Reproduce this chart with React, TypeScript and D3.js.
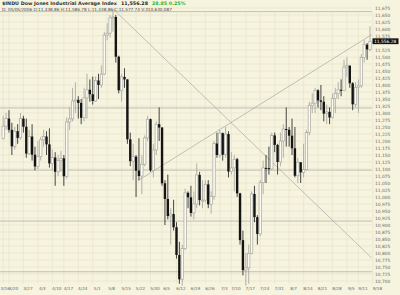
import React from "react";
import * as d3 from "d3";

// ---- data (Dow Jones Industrial Average, daily, 3/16 – 9/15) ----
const opens = [
  11209, 11253, 11280, 11240, 11181, 11235, 11211, 11280, 11251, 11155, 11216, 11151,
  11109, 11145, 11204, 11216, 11188, 11120, 11141, 11090, 11130, 11138, 11074, 11268,
  11279, 11343, 11347, 11336, 11283, 11354, 11383, 11367, 11343, 11416, 11400, 11439,
  11578, 11585, 11640, 11643, 11501, 11381, 11429, 11420, 11206, 11128, 11144, 11094,
  11075, 11117, 11211, 11278, 11095, 11168, 11260, 11248, 11049, 10993, 10932, 10939,
  10892, 10793, 10706, 10816, 11015, 10999, 10943, 10975, 11079, 10989, 10989, 11045,
  10974, 11002, 11191, 11150, 11228, 11151, 11225, 11091, 11104, 11135, 11013, 10846,
  10739, 10747, 10799, 11011, 10928, 10868, 11051, 11104, 11103, 11100, 11220, 11186,
  11125, 11200, 11243, 11240, 11219, 11174, 11076, 11124, 11088, 11098, 11230, 11327,
  11335, 11381, 11345, 11340, 11298, 11304, 11284, 11352, 11370, 11383, 11381, 11464,
  11469, 11406, 11331, 11392, 11397, 11498, 11544, 11527,
];
const highs = [
  11290, 11300, 11310, 11265, 11250, 11260, 11300, 11290, 11280, 11240, 11260, 11180,
  11200, 11215, 11240, 11235, 11245, 11170, 11160, 11150, 11165, 11150, 11285, 11320,
  11390, 11410, 11360, 11350, 11390, 11440, 11420, 11430, 11430, 11440, 11470, 11590,
  11620, 11650, 11670, 11650, 11505, 11440, 11460, 11420, 11230, 11190, 11150, 11210,
  11150, 11220, 11290, 11280, 11190, 11270, 11320, 11250, 11060, 11080, 10960, 10990,
  10910, 10840, 10830, 11030, 11020, 11040, 11020, 11120, 11090, 11060, 11060, 11060,
  11020, 11200, 11230, 11240, 11230, 11250, 11235, 11160, 11150, 11140, 11015, 10880,
  10800, 10830, 11020, 11040, 10935, 11060, 11130, 11150, 11180, 11230, 11230, 11190,
  11230, 11260, 11320, 11250, 11280, 11250, 11140, 11125, 11190, 11240, 11340, 11370,
  11390, 11385, 11400, 11360, 11330, 11320, 11370, 11390, 11410, 11420, 11490, 11500,
  11470, 11410, 11410, 11420, 11510, 11560, 11550, 11610,
];
const lows = [
  11205, 11240, 11230, 11150, 11170, 11190, 11205, 11230, 11140, 11150, 11130, 11095,
  11100, 11130, 11180, 11150, 11105, 11095, 11040, 11075, 11090, 11040, 11065, 11240,
  11270, 11300, 11280, 11260, 11270, 11280, 11340, 11330, 11340, 11350, 11390, 11435,
  11560, 11570, 11590, 11480, 11370, 11340, 11390, 11190, 11110, 11060, 11000, 11060,
  11010, 11110, 11200, 11090, 11070, 11150, 11200, 11040, 10900, 10920, 10830, 10880,
  10780, 10690, 10683, 10810, 10960, 10930, 10920, 10960, 10970, 10960, 10980, 10960,
  10940, 10990, 11140, 11140, 11130, 11140, 11070, 11080, 11020, 11000, 10830, 10720,
  10683, 10690, 10795, 10910, 10830, 10860, 11010, 11050, 11080, 11095, 11160, 11080,
  11110, 11140, 11180, 11180, 11150, 11070, 11050, 11050, 11070, 11095, 11220, 11300,
  11300, 11320, 11310, 11270, 11260, 11260, 11280, 11300, 11350, 11360, 11380, 11430,
  11390, 11310, 11320, 11300, 11390, 11480, 11490, 11520,
];
const closes = [
  11253, 11280, 11240, 11181, 11235, 11211, 11280, 11251, 11155, 11216, 11151, 11109,
  11145, 11204, 11216, 11188, 11120, 11141, 11090, 11130, 11138, 11074, 11268, 11279,
  11343, 11347, 11336, 11283, 11354, 11383, 11367, 11343, 11416, 11400, 11439, 11578,
  11585, 11640, 11643, 11501, 11381, 11429, 11420, 11206, 11128, 11144, 11094, 11075,
  11117, 11211, 11278, 11095, 11168, 11260, 11248, 11049, 10993, 10932, 10939, 10892,
  10793, 10706, 10816, 11015, 10999, 10943, 10975, 11079, 10989, 10989, 11045, 10974,
  11002, 11191, 11150, 11228, 11151, 11225, 11091, 11104, 11135, 11013, 10846, 10739,
  10747, 10799, 11011, 10928, 10868, 11051, 11104, 11103, 11100, 11220, 11186, 11125,
  11200, 11243, 11240, 11219, 11174, 11076, 11124, 11088, 11098, 11230, 11327, 11335,
  11381, 11345, 11340, 11298, 11304, 11284, 11352, 11370, 11383, 11381, 11464, 11469,
  11406, 11331, 11392, 11397, 11498, 11544, 11527, 11556,
];

// weekly date labels and the bar index they sit on
const tickLabels = ["3/16", "3/20", "3/27", "4/3", "4/10", "4/17", "4/24", "5/1", "5/8", "5/15", "5/22", "5/30", "6/5", "6/12", "6/19", "6/26", "7/3", "7/10", "7/17", "7/24", "7/31", "8/7", "8/14", "8/21", "8/28", "9/5", "9/11", "9/18"];
const tickIndex = [0, 2, 7, 12, 17, 21, 26, 31, 36, 41, 46, 51, 55, 60, 65, 70, 75, 79, 84, 89, 94, 99, 104, 109, 114, 119, 123, 128];

// drawn support / resistance levels
const levels = [11662, 11318, 11096, 10914, 10733];
// trend lines [startIndex, startValue, endIndex, endValue]
const trendLines = [
  [38, 11672, 127.6, 10782],
  [46.6, 11058, 127.6, 11580],
];

const lastPrice = 11556.28;
const titleName = "$INDU Dow Jones Industrial Average Index";
const titlePrice = "11,556.28";
const titleChange = "28.85  0.25%";
const infoLine = "D: 05/05/2006 O:11,438.86 H:11,586.78 L:11,438.86 C:11,577.74 V:310,630,087";

const W = 400;
const H = 295;
const plotRight = 372;

export default function App() {
  const x = d3.scaleLinear().domain([0, 127]).range([3.2, 370]);
  const y = d3.scaleLinear().domain([10700, 11675]).range([281, 8]);
  const yTicks = d3.range(10700, 11676, 25);
  const fmt = d3.format(",");
  const bg = "#f6f3de";
  const grid = "#e6e2c9";
  const lineCol = "#a9a9a3";
  const font = "'DejaVu Sans', sans-serif";
  const boxY = y(lastPrice);

  return (
    <svg width={W} height={H} style={{ position: "absolute", left: 0, top: 0, display: "block" }} fontFamily={font}>
      <rect x={0} y={0} width={W} height={H} fill={bg} />
      {/* horizontal grid */}
      {yTicks.map((v) => (
        <line key={"hg" + v} x1={0} x2={plotRight} y1={y(v)} y2={y(v)} stroke={grid} strokeWidth={0.6} />
      ))}
      {/* vertical grid */}
      {tickIndex.map((i) => (
        <line key={"vg" + i} x1={x(i)} x2={x(i)} y1={12} y2={284} stroke={grid} strokeWidth={0.6} />
      ))}
      {/* levels */}
      {levels.map((v) => (
        <line key={"lv" + v} x1={0} x2={plotRight} y1={y(v)} y2={y(v)} stroke={lineCol} strokeWidth={0.7} />
      ))}
      {/* trend lines */}
      {trendLines.map((t, k) => (
        <line key={"tl" + k} x1={x(t[0])} y1={y(t[1])} x2={x(t[2])} y2={y(t[3])} stroke={lineCol} strokeWidth={0.7} />
      ))}
      {/* candles */}
      {closes.map((c, i) => {
        const o = opens[i];
        const up = c >= o;
        const cx = x(i);
        const top = y(Math.max(o, c));
        const bot = y(Math.min(o, c));
        const h = Math.max(1, bot - top);
        return (
          <g key={"c" + i}>
            <line x1={cx} x2={cx} y1={y(highs[i])} y2={y(lows[i])} stroke={up ? "#a2a29c" : "#1a1a1a"} strokeWidth={0.8} />
            {up ? (
              <rect x={cx - 1.2} y={top} width={2.4} height={h} fill="#fbfaf3" stroke="#a8a8a2" strokeWidth={0.7} />
            ) : (
              <rect x={cx - 1.2} y={top} width={2.4} height={h} fill="#141414" />
            )}
          </g>
        );
      })}
      {/* y axis labels (the one under the price box is hidden) */}
      {yTicks
        .filter((v) => Math.abs(y(v) - boxY) > 4.5)
        .map((v) => (
          <text key={"yl" + v} x={375} y={y(v)} dy="0.35em" fontSize={4.4} fill="#6a6a60">
            {fmt(v)}
          </text>
        ))}
      {/* last price box */}
      <rect x={372.5} y={boxY - 2.9} width={26} height={5.8} fill="#111" />
      <text x={374} y={boxY} dy="0.35em" fontSize={4.4} fill="#fff">
        {d3.format(",.2f")(lastPrice)}
      </text>
      {/* x axis labels */}
      {tickIndex.map((i, k) =>
        k === 0 ? (
          <text key={"xl" + i} x={0.5} y={290} fontSize={4.2} fill="#6a6a60">
            {tickLabels[k]}
          </text>
        ) : (
          <text key={"xl" + i} x={x(i) + 4.5} y={290} textAnchor="middle" fontSize={4.2} fill="#6a6a60">
            {tickLabels[k]}
          </text>
        )
      )}
      {/* header */}
      <text x={2} y={5} fontSize={4.8} fontWeight="bold" fill="#333">
        {titleName}
        <tspan dx={4} fill="#222">{titlePrice}</tspan>
        <tspan dx={4} fill="#2bb52b">{titleChange}</tspan>
      </text>
      <text x={2} y={11} fontSize={4.2} fill="#444">
        {infoLine}
      </text>
    </svg>
  );
}
